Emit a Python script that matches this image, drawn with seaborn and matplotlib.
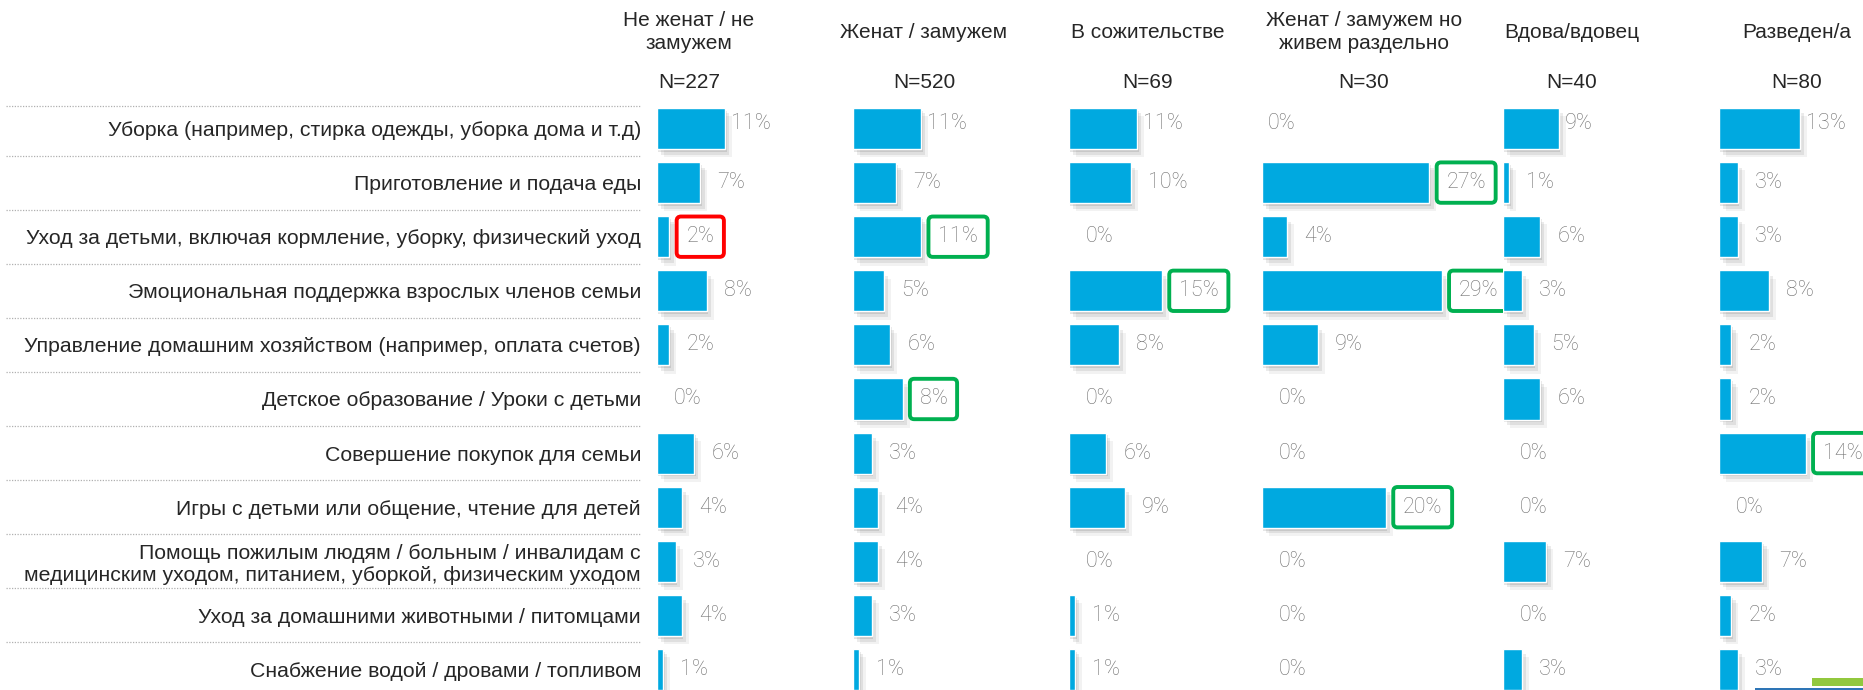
import matplotlib
matplotlib.use('Agg')
import matplotlib.pyplot as plt
import matplotlib.patheffects as pe
from matplotlib.patches import Rectangle
import seaborn as sns
import pandas as pd

sns.set_style('white')
plt.rcParams['font.family'] = ['Liberation Sans Narrow', 'Liberation Sans', 'DejaVu Sans']

# ---- data ----
categories = [
    'Уборка (например, стирка одежды, уборка дома и т.д)',
    'Приготовление и подача еды',
    'Уход за детьми, включая кормление, уборку, физический уход',
    'Эмоциональная поддержка взрослых членов семьи',
    'Управление домашним хозяйством (например, оплата счетов)',
    'Детское образование / Уроки с детьми',
    'Совершение покупок для семьи',
    'Игры с детьми или общение, чтение для детей',
    'Помощь пожилым людям / больным / инвалидам с\nмедицинским уходом, питанием, уборкой, физическим уходом',
    'Уход за домашними животными / питомцами',
    'Снабжение водой / дровами / топливом',
]
groups = ['Не женат / не\nзамужем', 'Женат / замужем', 'В сожительстве',
          'Женат / замужем но\nживем раздельно', 'Вдова/вдовец', 'Разведен/а']
group_n = [227, 520, 69, 30, 40, 80]

single = [11, 7, 2, 8, 2, 0, 6, 4, 3, 4, 1]
married = [11, 7, 11, 5, 6, 8, 3, 4, 4, 3, 1]
cohabiting = [11, 10, 0, 15, 8, 0, 6, 9, 0, 1, 1]
separated = [0, 27, 4, 29, 9, 0, 0, 20, 0, 0, 0]
widowed = [9, 1, 6, 3, 5, 6, 0, 0, 7, 0, 3]
divorced = [13, 3, 3, 8, 2, 2, 14, 0, 7, 2, 3]

# boxed labels: (group, row)
red_marks = [(0, 2)]
green_marks = [(1, 2), (1, 5), (2, 3), (3, 1), (3, 3), (3, 7), (5, 6)]

series = [single, married, cohabiting, separated, widowed, divorced]
df = pd.DataFrame({
    'category': categories * len(groups),
    'group': [g for g in groups for _ in categories],
    'value': [v for s in series for v in s],
})

# ---- layout (pixels of the 1863x690 image) ----
W, H = 1863, 690
baselines = [657, 853, 1069, 1262, 1503, 1719]
header_x = [689, 924, 1148, 1364, 1572, 1797]
px_per_pct = 6.2
row0, pitch = 128.5, 54.1
panel_w = 190
BAR = '#00A9E0'
GREY = '#707070'
TEXT = '#262626'
value_font = ['Roboto', 'Liberation Sans', 'DejaVu Sans']

top_px = row0 - pitch / 2
bot_px = row0 + (len(categories) - 0.5) * pitch
ax_bottom = (H - bot_px) / H
ax_height = (bot_px - top_px) / H

fig = plt.figure(figsize=(W / 100, H / 100), dpi=100)

shadow = [pe.SimplePatchShadow(offset=(1, -2), shadow_rgbFace='#000000', alpha=0.10),
          pe.SimplePatchShadow(offset=(3, -4), shadow_rgbFace='#000000', alpha=0.08),
          pe.SimplePatchShadow(offset=(5, -6), shadow_rgbFace='#000000', alpha=0.05),
          pe.Normal()]

# dotted separators behind the category labels
ax_sep = fig.add_axes([6 / W, ax_bottom, (641 - 6) / W, ax_height])
ax_sep.set_xlim(0, 1)
ax_sep.set_ylim(len(categories) - 0.5, -0.5)
ax_sep.hlines([i - 0.42 if i == 0 else i - 0.5 for i in range(len(categories))], 0, 1,
              colors='#B0B0B0', linestyles=(0, (1, 1.2)), linewidth=0.9)
ax_sep.axis('off')

for gi, g in enumerate(groups):
    ax = fig.add_axes([baselines[gi] / W, ax_bottom, panel_w / W, ax_height])
    sub = df[df['group'] == g]
    sns.barplot(data=sub, x='value', y='category', orient='h', color=BAR,
                saturation=1, width=0.76, ax=ax)
    for p in ax.patches:
        p.set_path_effects(shadow)
    ax.set_xlim(0, panel_w / px_per_pct)
    ax.set_ylim(len(categories) - 0.5, -0.5)
    for s in ax.spines.values():
        s.set_visible(False)
    ax.set_xticks([])
    ax.set_xlabel('')
    ax.set_ylabel('')
    if gi == 0:
        ax.tick_params(axis='y', length=0, pad=11.5, labelsize=15.3, labelcolor=TEXT)
        for t in ax.get_yticklabels():
            t.set_ha('right')
    else:
        ax.set_yticks([])

    for ri, v in enumerate(sub['value']):
        gap = 4.3 if ri == 0 else 12.2
        dy = 3.5 if ri == 0 else 0
        box = None
        if (gi, ri) in red_marks:
            box = '#FF0000'
        elif (gi, ri) in green_marks:
            box = '#00B050'
        kw = {}
        if box:
            kw['bbox'] = dict(boxstyle='round,pad=0.45,rounding_size=0.2', fc='white',
                              ec=box, lw=2.8)
        ax.annotate(f'{v}%', xy=(v, ri), xytext=(gap, dy), textcoords='offset points',
                    ha='left', va='center', fontsize=15.5, color=GREY,
                    family=value_font, fontweight='light',
                    annotation_clip=False, **kw)

    fig.text(header_x[gi] / W, 1 - 32 / H, g, ha='center', va='center',
             fontsize=15, color=TEXT, linespacing=1.25)
    fig.text(header_x[gi] / W, 1 - 83 / H, f'N={group_n[gi]}', ha='center', va='center',
             fontsize=15, color=TEXT)

# slide footer accents
fig.add_artist(Rectangle((1812 / W, 4 / H), 51 / W, 8 / H, transform=fig.transFigure,
                         facecolor='#92C83E', edgecolor='none'))
fig.add_artist(Rectangle((1755 / W, 0), 108 / W, 2 / H, transform=fig.transFigure,
                         facecolor='#2E75B6', edgecolor='none'))

fig.savefig('out.png', dpi=100, facecolor='white')
